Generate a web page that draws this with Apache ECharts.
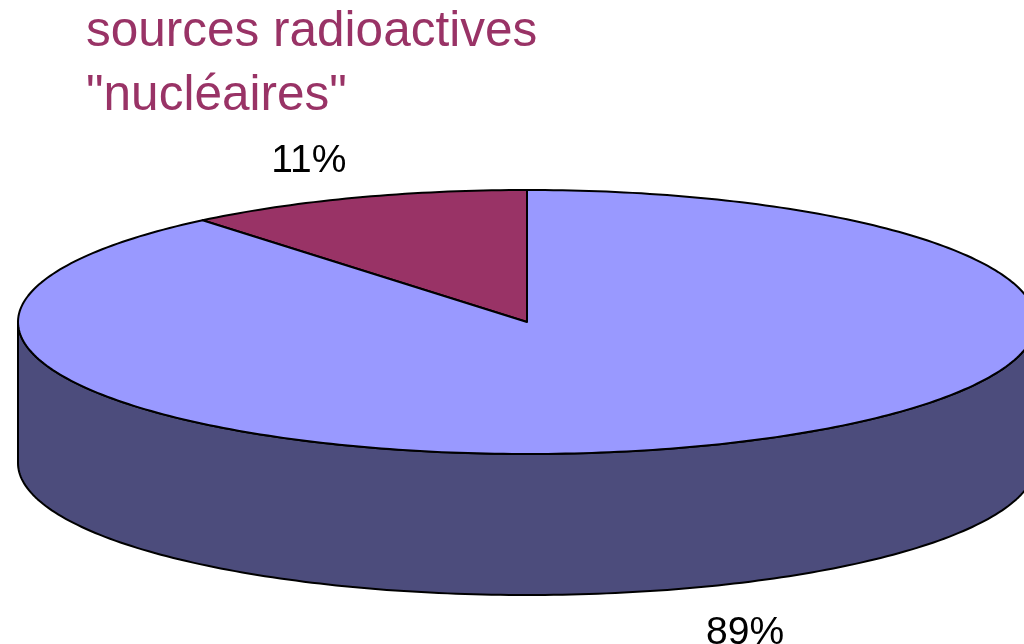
<!DOCTYPE html>
<html>
<head>
<meta charset="utf-8">
<style>
html,body{margin:0;padding:0;background:#fff;}
#chart{width:1024px;height:644px;}
</style>
<script src="https://cdn.jsdelivr.net/npm/echarts@6/dist/echarts.min.js"></script>
</head>
<body>
<div id="chart"></div>
<script>
// ---- data ----
const categories = ['sources nucléaires', 'autres sources'];
const values = [11, 89];
const labels = ['11%', '89%'];
const topColors = ['#993366', '#9999FF'];
const sideColors = ['#4D1A33', '#4C4C7C'];
const titleText = 'sources radioactives\n"nucléaires"';

const total = values.reduce((a, b) => a + b, 0);
const starts = [];
let acc = 0;
values.forEach(v => { starts.push(acc); acc += v; });

const chart = echarts.init(document.getElementById('chart'), null, { renderer: 'canvas' });

const G = { cx: 527, cy: 322, rx: 509, ry: 132, depth: 141 };

function pt(deg, dy) {
  const r = deg * Math.PI / 180;
  return [G.cx + G.rx * Math.sin(r), G.cy - G.ry * Math.cos(r) + (dy || 0)];
}
function arc(a, b, dy) {
  const pts = [];
  const n = Math.max(2, Math.ceil(Math.abs(b - a) / 1));
  for (let i = 0; i <= n; i++) pts.push(pt(a + (b - a) * i / n, dy));
  return pts;
}

function renderItem(params, api) {
  const i = params.dataIndex;
  const v = api.value(0);
  // counter-clockwise from 12 o'clock
  const a0 = -starts[i] / total * 360;
  const a1 = a0 - v / total * 360;
  const children = [];
  // side (front half: angles -270..-90)
  const s0 = Math.min(a0, -90), s1 = Math.max(a1, -270);
  if (s0 > s1) {
    const top = arc(s0, s1, 0);
    const bot = arc(s1, s0, G.depth);
    children.push({
      type: 'polygon',
      shape: { points: top.concat(bot) },
      style: { fill: sideColors[i], stroke: '#000', lineWidth: 2, lineJoin: 'round' }
    });
  }
  // top face
  const face = [[G.cx, G.cy]].concat(arc(a0, a1, 0));
  children.push({
    type: 'polygon',
    shape: { points: face },
    style: { fill: topColors[i], stroke: '#000', lineWidth: 2, lineJoin: 'round' }
  });
  // label
  const mid = (a0 + a1) / 2 * Math.PI / 180;
  const sn = Math.sin(mid), cs = Math.cos(mid);
  const lx = G.cx + 1.265 * G.rx * sn;
  const ly = G.cy - 1.3 * G.ry * cs + (cs < 0 ? G.depth + 8 : 0);
  children.push({
    type: 'text',
    style: {
      text: labels[i], x: lx, y: ly + 1, align: 'center', verticalAlign: 'middle',
      fill: '#000', font: '39px "Liberation Sans", Arial, sans-serif'
    }
  });
  return { type: 'group', children: children };
}

chart.setOption({
  animation: false,
  backgroundColor: '#ffffff',
  title: {
    text: titleText,
    left: 86, top: 0, padding: 0,
    textStyle: {
      color: '#993366', fontFamily: '"Liberation Sans", Arial, sans-serif',
      fontWeight: 'normal', fontSize: 49.5, lineHeight: 64
    }
  },
  series: [{
    type: 'custom',
    coordinateSystem: 'none',
    renderItem: renderItem,
    data: values.map((v, i) => ({ name: categories[i], value: [v] }))
  }]
});
</script>
</body>
</html>
